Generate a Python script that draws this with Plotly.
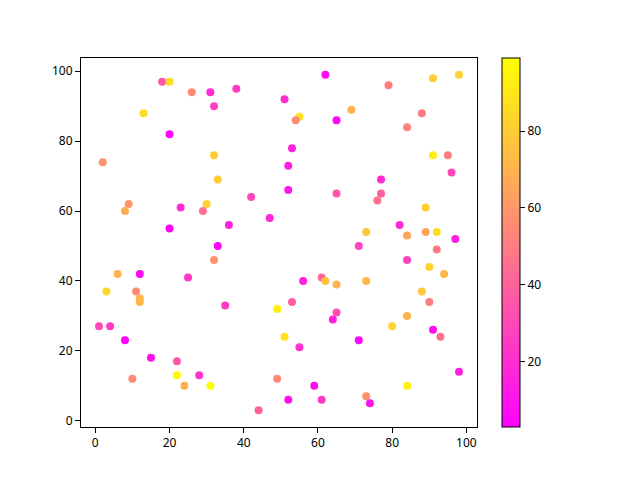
import plotly.graph_objects as go

# point positions
xs = [18, 20, 26, 31, 32, 38, 51, 13, 20, 2,
      32, 33, 42, 9, 8, 23, 30, 29, 47, 20,
      36, 33, 62, 91, 98, 79, 55, 54, 65, 69,
      88, 84, 53, 91, 95, 52, 96, 52, 77, 65,
      77, 76, 89, 82, 73, 84, 89, 92, 97, 71,
      92, 32, 6, 12, 25, 3, 11, 12, 12, 35,
      49, 1, 4, 8, 15, 22, 22, 28, 10, 24,
      31, 44, 49, 51, 84, 90, 94, 56, 61, 62,
      65, 73, 88, 90, 53, 65, 64, 84, 80, 91,
      93, 55, 71, 98, 59, 84, 52, 61, 73, 74]
ys = [97, 97, 94, 94, 90, 95, 92, 88, 82, 74,
      76, 69, 64, 62, 60, 61, 62, 60, 58, 55,
      56, 50, 99, 98, 99, 96, 87, 86, 86, 89,
      88, 84, 78, 76, 76, 73, 71, 66, 69, 65,
      65, 63, 61, 56, 54, 53, 54, 54, 52, 50,
      49, 46, 42, 42, 41, 37, 37, 35, 34, 33,
      32, 27, 27, 23, 18, 17, 13, 13, 12, 10,
      10, 3, 12, 24, 46, 44, 42, 40, 41, 40,
      39, 40, 37, 34, 34, 31, 29, 30, 27, 26,
      24, 21, 23, 14, 10, 10, 6, 6, 7, 5]
# colour values (spring colormap)
cs = [35, 86, 55, 20, 28, 25, 20, 86, 6, 58,
      80, 80, 30, 60, 68, 20, 82, 45, 18, 3,
      15, 5, 7, 80, 82, 50, 88, 56, 6, 70,
      50, 52, 15, 92, 50, 15, 30, 12, 20, 35,
      38, 45, 80, 18, 78, 65, 65, 86, 15, 28,
      50, 58, 70, 7, 25, 85, 55, 70, 72, 25,
      93, 30, 25, 4, 9, 35, 97, 22, 55, 68,
      99, 40, 55, 88, 28, 82, 72, 15, 42, 75,
      70, 72, 78, 50, 38, 32, 15, 70, 82, 8,
      45, 22, 5, 15, 8, 94, 10, 25, 58, 10]

fnt = dict(family="Noto Sans", size=12, color="black")

fig = go.Figure(go.Scatter(
    x=xs, y=ys, mode="markers",
    marker=dict(size=8, color=cs, colorscale=[[0, "#ff00ff"], [1, "#ffff00"]],
                cmin=min(cs), cmax=max(cs), line=dict(width=0),
                colorbar=dict(x=1.063, xanchor="left", y=0.5, yanchor="middle",
                              len=1, lenmode="fraction", thickness=18,
                              outlinecolor="black", outlinewidth=1,
                              tickvals=[20, 40, 60, 80], ticks="outside",
                              ticklen=5, tickcolor="black", tickfont=fnt,
                              xpad=0, ypad=0))))

ax = dict(showgrid=False, zeroline=False, showline=True, linecolor="black",
          linewidth=1, mirror=True, ticks="outside", ticklen=5,
          tickcolor="black", tickfont=fnt)
# page body has an 8px margin, so the figure is a bit smaller and shifted
fig.update_layout(
    width=632, height=472, showlegend=False,
    margin=dict(l=73, r=163, t=50, b=53),
    plot_bgcolor="white", paper_bgcolor="white",
    xaxis=dict(ax, range=[-3.85, 102.85], tickvals=[0, 20, 40, 60, 80, 100]),
    yaxis=dict(ax, range=[-1.8, 103.8], tickvals=[0, 20, 40, 60, 80, 100]),
)

fig.write_html("out.html")
